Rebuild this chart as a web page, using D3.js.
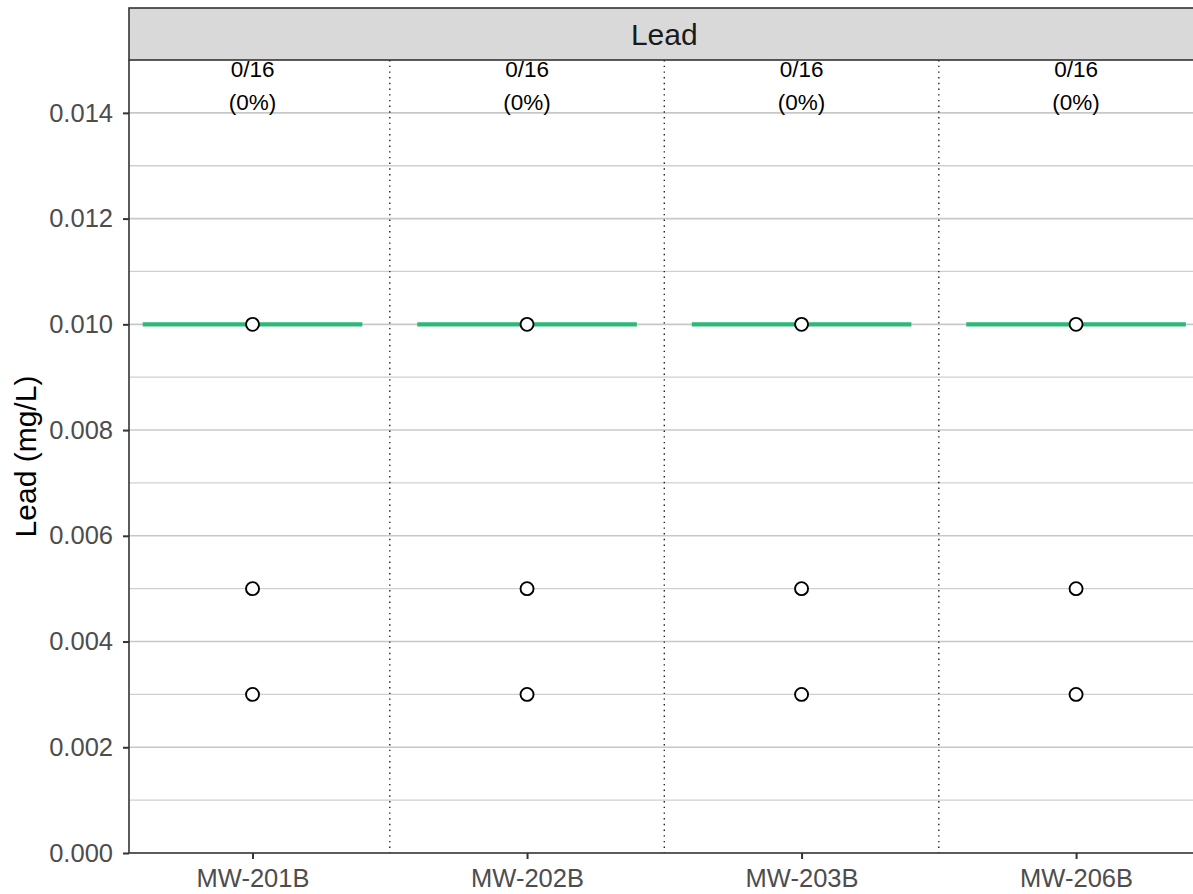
<!DOCTYPE html>
<html><head><meta charset="utf-8">
<script src="https://cdn.jsdelivr.net/npm/d3@7"></script>
<style>body{margin:0;background:#fff;} svg{display:block;font-family:"Liberation Sans",Arial,sans-serif;}</style>
</head><body>
<svg id="c" width="1193" height="894"></svg>
<script>
const facetTitle = "Lead";
const yTitle = "Lead (mg/L)";
const wells = ["MW-201B","MW-202B","MW-203B","MW-206B"];
const limitValue = [0.010, 0.010, 0.010, 0.010];
const pointValues = [
  [0.010, 0.005, 0.003],
  [0.010, 0.005, 0.003],
  [0.010, 0.005, 0.003],
  [0.010, 0.005, 0.003]
];
const exceedCount = ["0/16","0/16","0/16","0/16"];
const exceedPct = ["(0%)","(0%)","(0%)","(0%)"];
const yTicks = [0.000,0.002,0.004,0.006,0.008,0.010,0.012,0.014];
const yMinor = [0.001,0.003,0.005,0.007,0.009,0.011,0.013];

const FONT = "Liberation Sans, Arial, sans-serif";
const svg = d3.select("#c");
const L = 129, R = 1199.6, T = 60, B = 853, stripTop = 8;
const x = d3.scaleLinear().domain([0.55, 4.45]).range([L, R]);
const y = d3.scaleLinear().domain([0, 0.015]).range([B, T]);

const g = svg.append("g");
// grid
g.selectAll(".gmin").data(yMinor).join("line")
  .attr("x1", L).attr("x2", R).attr("y1", d=>y(d)).attr("y2", d=>y(d))
  .attr("stroke", "#cfcfcf").attr("stroke-width", 1.3);
g.selectAll(".gmaj").data(yTicks).join("line")
  .attr("x1", L).attr("x2", R).attr("y1", d=>y(d)).attr("y2", d=>y(d))
  .attr("stroke", "#c8c8c8").attr("stroke-width", 1.6);
// dividers
g.selectAll(".div").data(d3.range(1, wells.length)).join("line")
  .attr("x1", d=>x(d+0.5)).attr("x2", d=>x(d+0.5)).attr("y1", T).attr("y2", B)
  .attr("stroke", "#222").attr("stroke-width", 1.4).attr("stroke-dasharray", "1.4,4.3");
// limit lines
g.selectAll(".lim").data(limitValue).join("line")
  .attr("x1", (d,i)=>x(i+1-0.4)).attr("x2", (d,i)=>x(i+1+0.4))
  .attr("y1", d=>y(d)).attr("y2", d=>y(d))
  .attr("stroke", "#2db87a").attr("stroke-width", 4.2);
// points
wells.forEach((w,i)=>{
  g.selectAll(".p"+i).data(pointValues[i]).join("circle")
    .attr("cx", x(i+1)).attr("cy", d=>y(d)).attr("r", 6.5)
    .attr("fill", "#fff").attr("stroke", "#000").attr("stroke-width", 1.9);
});
// labels on top
g.selectAll(".cnt").data(exceedCount).join("text")
  .attr("x", (d,i)=>x(i+1)).attr("y", 77).attr("text-anchor","middle")
  .attr("font-size", 22.5).attr("fill", "#000").text(d=>d);
g.selectAll(".pct").data(exceedPct).join("text")
  .attr("x", (d,i)=>x(i+1)).attr("y", 110).attr("text-anchor","middle")
  .attr("font-size", 22.5).attr("fill", "#000").text(d=>d);

// strip
svg.append("rect").attr("x", L).attr("y", stripTop).attr("width", R-L+5).attr("height", T-stripTop)
  .attr("fill", "#d9d9d9").attr("stroke", "#333").attr("stroke-width", 1.6);
svg.append("text").attr("x", (L+R)/2).attr("y", 45).attr("text-anchor","middle")
  .attr("font-size", 30).attr("fill", "#1a1a1a").text(facetTitle);

// axes
const ya = d3.axisLeft(y).tickValues(yTicks).tickFormat(d3.format(".3f")).tickSize(6).tickPadding(10);
const yg = svg.append("g").attr("transform", `translate(${L},0)`).call(ya);
yg.select(".domain").remove();
yg.selectAll(".tick line").attr("stroke", "#333").attr("stroke-width", 2);
yg.selectAll(".tick text").attr("font-size", 25.5).attr("fill", "#4d4d4d").attr("font-family", FONT);
svg.append("line").attr("x1", L).attr("x2", L).attr("y1", T).attr("y2", B).attr("stroke", "#333").attr("stroke-width", 1.6);

const xa = d3.axisBottom(x).tickValues([1,2,3,4]).tickFormat(d=>wells[d-1]).tickSize(6).tickPadding(10);
const xg = svg.append("g").attr("transform", `translate(0,${B})`).call(xa);
xg.select(".domain").remove();
xg.selectAll(".tick line").attr("stroke", "#333").attr("stroke-width", 2);
xg.selectAll(".tick text").attr("font-size", 25.5).attr("fill", "#4d4d4d").attr("font-family", FONT);
svg.append("line").attr("x1", L).attr("x2", R).attr("y1", B).attr("y2", B).attr("stroke", "#333").attr("stroke-width", 1.6);

svg.append("text").attr("transform", `translate(36,${(T+B)/2}) rotate(-90)`)
  .attr("text-anchor","middle").attr("font-size", 30).attr("fill","#000").text(yTitle);
</script>
</body></html>
